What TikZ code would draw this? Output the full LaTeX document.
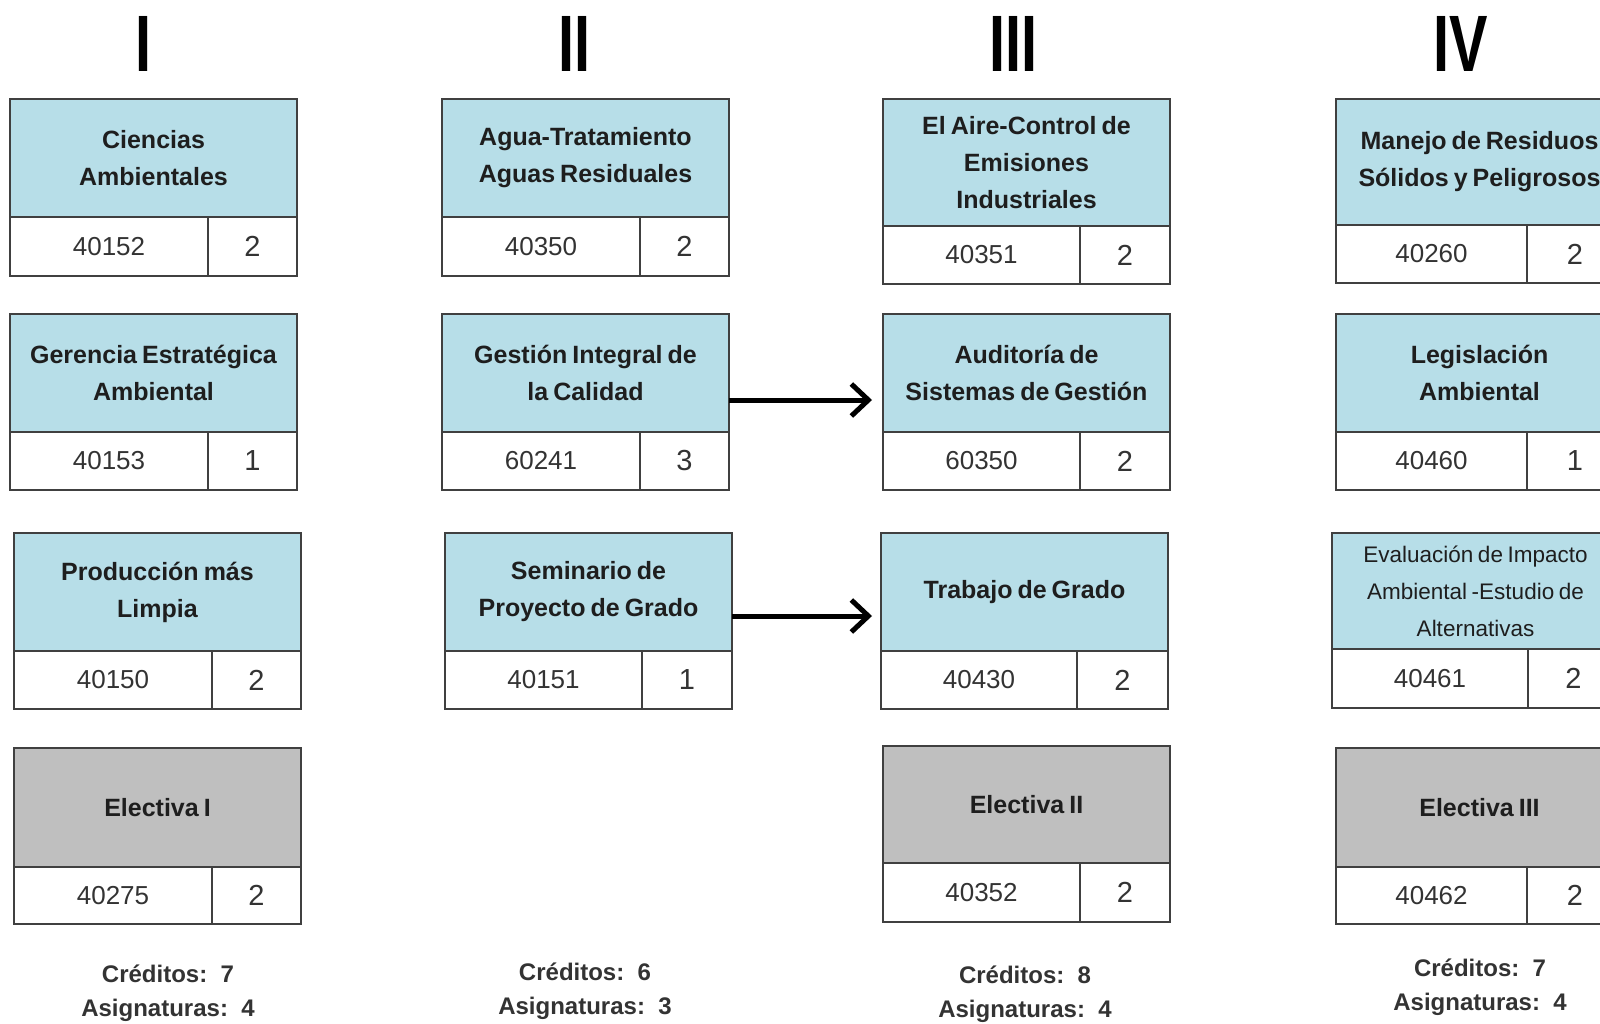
\documentclass[tikz,border=0pt]{standalone}
\usepackage{fontspec}
\setmainfont{Liberation Sans}
\newfontfamily\titlefont{Liberation Sans}[WordSpace=0.72]
\usetikzlibrary{arrows.meta}
\definecolor{cellblue}{HTML}{B7DEE8}
\definecolor{cellgray}{HTML}{BFBFBF}
\definecolor{edge}{HTML}{404040}
\definecolor{ink}{HTML}{1E1E1E}
\definecolor{numink}{HTML}{333333}
\tikzset{
  cell/.style={draw=edge, line width=1.6pt, inner sep=0pt, outer sep=0pt, anchor=north west},
  titlecell/.style={cell, fill=\boxfill, text=ink, align=center,
     font=\titlefont\fontsize{25}{37}\selectfont\bfseries},
  codecell/.style={cell, fill=white, text=numink, font=\fontsize{26}{30}\selectfont},
  credcell/.style={cell, fill=white, text=numink, font=\fontsize{29}{30}\selectfont},
  roman/.style={text=black, font=\fontsize{80}{80}\selectfont\bfseries, inner sep=0pt},
  summary/.style={text=numink, align=center, font=\fontsize{24}{34}\selectfont\bfseries},
  arr/.style={line width=5pt, black, -{Straight Barb[length=17pt,width=32pt,line width=5pt]}}
}
\def\boxfill{cellblue}
% #1 name, #2 x, #3 ytop, #4 ydiv, #5 ybot, #6 vx, #7 title, #8 code, #9 credit
\newcommand\coursebox[9]{%
  \node[titlecell, minimum width=287, minimum height={#4-#3}] (#1) at (#2,#3) {#7};
  \node[codecell, minimum width={#6-#2}, minimum height={#5-#4}] (#1c) at (#2,#4) {#8};
  \node[credcell, minimum width={287-(#6-#2)}, minimum height={#5-#4}] (#1n) at (#6,#4) {#9};
}
\newcommand\evalline[1]{{\fontsize{22.5}{31}\selectfont\mdseries #1}}
\begin{document}
\begin{tikzpicture}[x=1pt,y=-1pt]
\useasboundingbox (0,0) rectangle (1600,1023);
\clip (0,0) rectangle (1600,1023);
\fill[white] (0,0) rectangle (1600,1023);

% semester headings
\node[roman] (h1) at (143,44) {\scalebox{0.72}[1]{I}};
\node[roman] (h2) at (574,44) {\scalebox{0.72}[1]{II}};
\node[roman] (h3) at (1013,44) {\scalebox{0.72}[1]{III}};
\node[roman] (h4) at (1461,44) {\scalebox{0.72}[1]{IV}};

% column I
\coursebox{a1}{10}{99}{217}{276}{208}{Ciencias\\Ambientales}{40152}{2}
\coursebox{a2}{10}{314}{432}{490}{208}{Gerencia Estratégica\\Ambiental}{40153}{1}
\coursebox{a3}{14}{533}{651}{709}{212}{Producción más\\Limpia}{40150}{2}
\def\boxfill{cellgray}
\coursebox{a4}{14}{748}{867}{924}{212}{Electiva I}{40275}{2}
\def\boxfill{cellblue}

% column II
\coursebox{b1}{442}{99}{217}{276}{640}{Agua-Tratamiento\\Aguas Residuales}{40350}{2}
\coursebox{b2}{442}{314}{432}{490}{640}{Gestión Integral de\\la Calidad}{60241}{3}
\coursebox{b3}{445}{533}{651}{709}{642}{Seminario de\\Proyecto de Grado}{40151}{1}

% column III
\coursebox{c1}{883}{99}{226}{284}{1080}{El Aire-Control de\\Emisiones\\Industriales}{40351}{2}
\coursebox{c2}{883}{314}{432}{490}{1080}{Auditoría de\\Sistemas de Gestión}{60350}{2}
\coursebox{c3}{881}{533}{651}{709}{1077}{Trabajo de Grado}{40430}{2}
\def\boxfill{cellgray}
\coursebox{c4}{883}{746}{863}{922}{1080}{Electiva II}{40352}{2}
\def\boxfill{cellblue}

% column IV
\coursebox{d1}{1336}{99}{225}{283}{1527}{Manejo de Residuos\\Sólidos y Peligrosos}{40260}{2}
\coursebox{d2}{1336}{314}{432}{490}{1527}{Legislación\\Ambiental}{40460}{1}
\coursebox{d3}{1332}{533}{649}{708}{1528}{\evalline{Evaluación de Impacto}\\\evalline{Ambiental -Estudio de}\\\evalline{Alternativas}}{40461}{2}
\def\boxfill{cellgray}
\coursebox{d4}{1336}{748}{867}{924}{1527}{Electiva III}{40462}{2}
\def\boxfill{cellblue}

% prerequisites
\draw[arr] ([yshift=-27pt]b2.east) -- ([xshift=-11pt,yshift=-27pt]c2.west);
\draw[arr] ([yshift=-24pt]b3.east) -- ([xshift=-9pt,yshift=-24pt]c3.west);

% summaries
\node[summary] (s1) at (168,993) {Créditos:\ \ 7\\Asignaturas:\ \ 4};
\node[summary] (s2) at (585,991) {Créditos:\ \ 6\\Asignaturas:\ \ 3};
\node[summary] (s3) at (1025,994) {Créditos:\ \ 8\\Asignaturas:\ \ 4};
\node[summary] (s4) at (1480,987) {Créditos:\ \ 7\\Asignaturas:\ \ 4};
\end{tikzpicture}
\end{document}
